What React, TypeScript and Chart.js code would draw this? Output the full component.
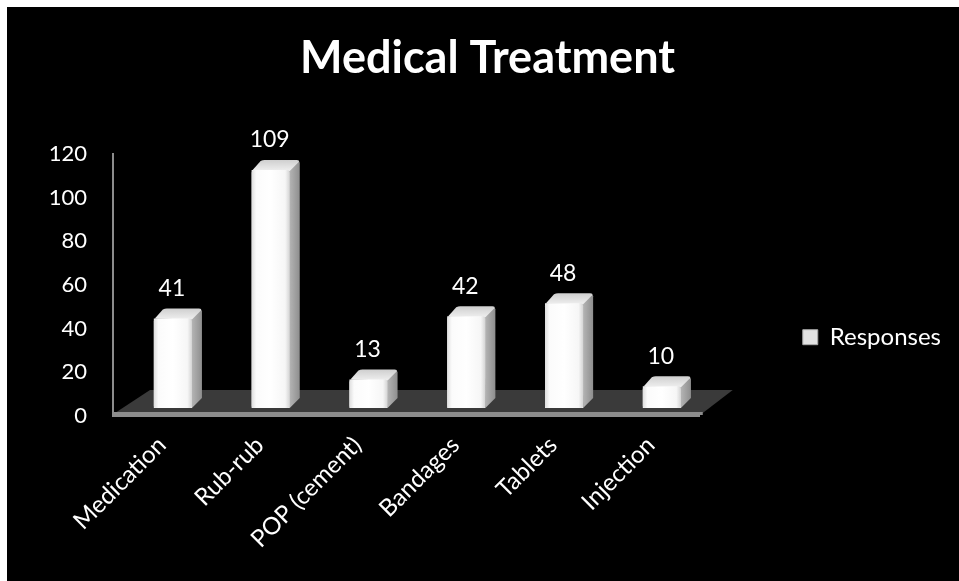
import { useEffect, useRef } from 'react';
import { Chart, registerables } from 'chart.js';

Chart.register(...registerables);

const titleText = 'Medical Treatment';
const seriesName = 'Responses';
const categories = ['Medication', 'Rub-rub', 'POP (cement)', 'Bandages', 'Tablets', 'Injection'];
const responses = [41, 109, 13, 42, 48, 10];
const yTicks = [0, 20, 40, 60, 80, 100, 120];

const FONT = 'Lato';
const SHIFT_X = 11;
const SHIFT_Y = 8;
const DEPTH_X = 10;
const DEPTH_Y = 10;

const bar3d = {
  id: 'bar3d',
  beforeDatasetsDraw(chart: any) {
    const { ctx, chartArea: a } = chart;
    const y0 = chart.scales.y.getPixelForValue(0);
    ctx.save();
    ctx.beginPath();
    ctx.moveTo(a.left + 2, y0 - 3);
    ctx.lineTo(a.right + 3, y0 - 3);
    ctx.lineTo(a.right + 33, y0 - 26);
    ctx.lineTo(a.left + 37, y0 - 26);
    ctx.closePath();
    ctx.fillStyle = '#3a3a3a';
    ctx.fill();
    ctx.fillStyle = '#8c8c8c';
    ctx.fillRect(a.left, y0 - 4, a.right - a.left + 3, 3);
    ctx.restore();
    ctx.save();
    ctx.translate(SHIFT_X, -SHIFT_Y);
  },
  afterDatasetsDraw(chart: any) {
    const { ctx } = chart;
    const meta = chart.getDatasetMeta(0);
    const values = chart.data.datasets[0].data;
    meta.data.forEach((el: any, i: number) => {
      const { x, y, base, width } = el.getProps(['x', 'y', 'base', 'width'], true);
      const l = x - width / 2;
      const r = x + width / 2;
      // side face
      const sg = ctx.createLinearGradient(r, 0, r + DEPTH_X, 0);
      sg.addColorStop(0, '#b4b4b4');
      sg.addColorStop(1, '#8e8e8e');
      ctx.beginPath();
      ctx.moveTo(r - 1, y);
      ctx.lineTo(r + DEPTH_X - 2, y - DEPTH_Y + 1);
      ctx.quadraticCurveTo(r + DEPTH_X, y - DEPTH_Y + 1, r + DEPTH_X, y - DEPTH_Y + 3);
      ctx.lineTo(r + DEPTH_X, base - DEPTH_Y);
      ctx.lineTo(r, base);
      ctx.closePath();
      ctx.fillStyle = sg;
      ctx.fill();
      // top face
      const tg = ctx.createLinearGradient(0, y - DEPTH_Y, 0, y);
      tg.addColorStop(0, '#cfcfcf');
      tg.addColorStop(1, '#ececec');
      ctx.beginPath();
      ctx.moveTo(l + 1, y);
      ctx.lineTo(l + DEPTH_X - 1, y - DEPTH_Y + 1);
      ctx.quadraticCurveTo(l + DEPTH_X + 1, y - DEPTH_Y, l + DEPTH_X + 3, y - DEPTH_Y);
      ctx.lineTo(r + DEPTH_X - 3, y - DEPTH_Y);
      ctx.quadraticCurveTo(r + DEPTH_X, y - DEPTH_Y, r + DEPTH_X - 1, y - DEPTH_Y + 2);
      ctx.lineTo(r, y + 1);
      ctx.closePath();
      ctx.fillStyle = tg;
      ctx.fill();
      // front face
      const fg = ctx.createLinearGradient(l, 0, r, 0);
      fg.addColorStop(0, '#dedede');
      fg.addColorStop(0.12, '#fbfbfb');
      fg.addColorStop(0.5, '#ffffff');
      fg.addColorStop(0.88, '#f6f6f6');
      fg.addColorStop(1, '#d4d4d4');
      ctx.beginPath();
      ctx.roundRect(l, y, width, base - y, [3, 3, 2, 2]);
      ctx.fillStyle = fg;
      ctx.fill();
      // value label
      ctx.fillStyle = '#ffffff';
      ctx.font = `23px ${FONT}`;
      ctx.textAlign = 'center';
      ctx.textBaseline = 'middle';
      ctx.fillText(String(values[i]), x - 1, y - DEPTH_Y - 20);
    });
    ctx.restore();
  },
};

export default function App() {
  const ref = useRef<HTMLCanvasElement>(null);

  useEffect(() => {
    if (!ref.current) return;
    const chart = new Chart(ref.current, {
      type: 'bar',
      data: {
        labels: categories,
        datasets: [
          {
            label: seriesName,
            data: responses,
            backgroundColor: '#f4f4f4',
            borderWidth: 0,
            categoryPercentage: 1,
            barPercentage: 0.39,
          },
        ],
      },
      options: {
        animation: false,
        responsive: true,
        maintainAspectRatio: false,
        layout: { padding: { top: 0, left: 17, right: 8, bottom: 0 } },
        scales: {
          x: {
            grid: { display: false, drawTicks: false },
            border: { display: true, color: '#8c8c8c', width: 2 },
            ticks: {
              color: '#ffffff',
              font: { family: FONT, size: 24 },
              minRotation: 45,
              maxRotation: 45,
              autoSkip: false,
              padding: 15,
            },
            afterFit: (s: any) => {
              s.height = 165;
            },
          },
          y: {
            min: 0,
            max: 120,
            grid: { display: false, drawTicks: false },
            border: { display: true, color: '#8c8c8c', width: 2 },
            ticks: {
              color: '#ffffff',
              font: { family: FONT, size: 22 },
              padding: 26,
            },
            afterBuildTicks: (s: any) => {
              s.ticks = yTicks.map((v) => ({ value: v }));
            },
            afterFit: (s: any) => {
              s.width = 89;
            },
          },
        },
        plugins: {
          title: {
            display: true,
            text: titleText,
            color: '#ffffff',
            font: { family: FONT, size: 45, weight: 'bold' },
            padding: { top: 24, bottom: 69 },
          },
          legend: {
            position: 'right',
            align: 'center',
            maxWidth: 400,
            title: {
              display: true,
              text: ' ',
              font: { family: FONT, size: 12 },
              padding: { top: 72, bottom: 0 },
            },
            labels: {
              color: '#ffffff',
              font: { family: FONT, size: 24 },
              boxWidth: 15,
              boxHeight: 15,
              padding: 103,
              generateLabels: () => [
                {
                  text: seriesName,
                  fillStyle: '#e2e2e2',
                  strokeStyle: '#a8a8a8',
                  lineWidth: 1,
                  hidden: false,
                  datasetIndex: 0,
                  fontColor: '#ffffff',
                },
              ],
            },
          },
          tooltip: { enabled: false },
        },
      },
      plugins: [bar3d],
    });
    return () => chart.destroy();
  }, []);

  return (
    <div
      style={{
        position: 'absolute',
        left: 7,
        top: 7,
        width: 952,
        height: 574,
        background: '#000000',
      }}
    >
      <canvas ref={ref} />
    </div>
  );
}
